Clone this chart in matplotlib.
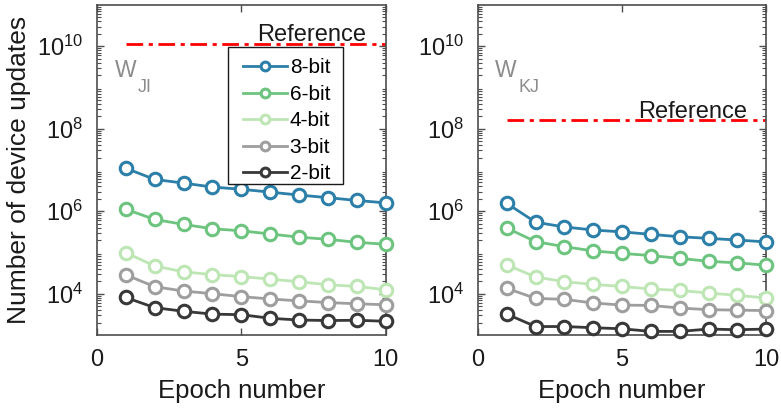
import matplotlib
matplotlib.use("Agg")
import matplotlib.pyplot as plt
import numpy as np
from matplotlib.ticker import LogLocator, NullFormatter
from matplotlib.patches import Rectangle

plt.rcParams['font.family'] = ['Liberation Sans', 'DejaVu Sans']
plt.rcParams['mathtext.fontset'] = 'custom'
plt.rcParams['mathtext.rm'] = 'Liberation Sans'
plt.rcParams['mathtext.it'] = 'Liberation Sans'

epochs = np.arange(1, 11)
labels = ["8-bit", "6-bit", "4-bit", "3-bit", "2-bit"]
colors = ["#2c7fa8", "#6cc47f", "#bde6b4", "#9e9e9e", "#383838"]

ji_8 = [1.1e7, 5.9e6, 4.8e6, 3.85e6, 3.4e6, 2.9e6, 2.46e6, 2.13e6, 1.82e6, 1.59e6]
ji_6 = [1.12e6, 6.3e5, 4.8e5, 3.75e5, 3.35e5, 2.8e5, 2.35e5, 2.08e5, 1.76e5, 1.58e5]
ji_4 = [9.9e4, 4.7e4, 3.4e4, 2.9e4, 2.6e4, 2.26e4, 1.95e4, 1.65e4, 1.5e4, 1.25e4]
ji_3 = [2.87e4, 1.48e4, 1.16e4, 1.0e4, 8.5e3, 7.45e3, 6.7e3, 6.1e3, 5.7e3, 5.4e3]
ji_2 = [8.1e3, 4.6e3, 3.75e3, 3.2e3, 3.1e3, 2.54e3, 2.3e3, 2.24e3, 2.27e3, 2.15e3]
ji_ref = 1.16e10

kj_8 = [1.55e6, 5.4e5, 4.15e5, 3.5e5, 3.15e5, 2.75e5, 2.4e5, 2.2e5, 2.0e5, 1.8e5]
kj_6 = [3.9e5, 1.83e5, 1.38e5, 1.09e5, 9.5e4, 8.4e4, 7.2e4, 6.1e4, 5.6e4, 4.9e4]
kj_4 = [5.0e4, 2.54e4, 1.96e4, 1.68e4, 1.5e4, 1.3e4, 1.2e4, 1.04e4, 9.1e3, 7.9e3]
kj_3 = [1.35e4, 7.7e3, 7.3e3, 5.95e3, 5.3e3, 5.2e3, 4.5e3, 4.1e3, 4.0e3, 3.9e3]
kj_2 = [3.2e3, 1.6e3, 1.6e3, 1.5e3, 1.41e3, 1.22e3, 1.22e3, 1.39e3, 1.34e3, 1.39e3]
kj_ref = 1.6e8

fig = plt.figure(figsize=(7.81, 4.11), dpi=100)
axL = fig.add_axes([0.124, 0.185, 0.370, 0.803])
axR = fig.add_axes([0.612, 0.185, 0.369, 0.803])

edge = "#4d4d4d"

def style(ax, series, ref, ref_text_xy, wsub, wx, subx):
    for s, c, lab in zip(series, colors, labels):
        ax.plot(epochs, s, '-o', color=c, lw=2, ms=9, mfc='white', mec=c, mew=2.2,
                label=lab, clip_on=False, zorder=3)
    ax.plot([1, 10], [ref, ref], color='red', lw=2, ls=(0, (6, 2, 1.5, 2)))
    ax.text(ref_text_xy[0], ref_text_xy[1], "Reference", fontsize=17, color='#1a1a1a',
            ha='left', va='baseline', transform=ax.transData)
    ax.text(wx, 0.782, "W", transform=ax.transAxes, fontsize=16.5, color='#8c8c8c',
            ha='left', va='baseline')
    ax.text(subx, 0.737, wsub, transform=ax.transAxes, fontsize=13, color='#8c8c8c',
            ha='left', va='baseline')
    ax.set_yscale('log')
    ax.set_ylim(1e3, 1e11)
    ax.set_xlim(0, 10)
    ax.set_xticks([0, 5, 10])
    ax.set_yticks([1e4, 1e6, 1e8, 1e10])
    ax.yaxis.set_minor_locator(LogLocator(base=10, subs=np.arange(2, 10), numticks=50))
    ax.yaxis.set_minor_formatter(NullFormatter())
    ax.tick_params(axis='both', which='both', direction='in', top=True, right=True,
                   colors=edge, labelcolor='#1a1a1a', labelsize=17)
    ax.tick_params(axis='both', which='major', length=5, width=1)
    ax.tick_params(axis='y', which='minor', length=3, width=0.8)
    ax.tick_params(axis='x', pad=10)
    ax.tick_params(axis='y', pad=10)
    for sp in ax.spines.values():
        sp.set_color(edge)
        sp.set_linewidth(1.2)
    ax.set_xlabel("Epoch number", fontsize=18.5, color='#1a1a1a', labelpad=6)

style(axL, [ji_8, ji_6, ji_4, ji_3, ji_2], ji_ref, (5.55, 1.3e10), "JI", 0.062, 0.142)
style(axR, [kj_8, kj_6, kj_4, kj_3, kj_2], kj_ref, (5.55, 1.85e8), "KJ", 0.059, 0.139)

axL.set_ylabel("Number of device updates", fontsize=19, color='#1a1a1a', labelpad=4)

leg = axL.legend(loc='upper left', bbox_to_anchor=(0.505, 0.838), fontsize=15,
                 frameon=False, handlelength=2.1, handletextpad=0.15, borderpad=0,
                 labelspacing=0.36, borderaxespad=0, markerscale=0.7)
leg.set_zorder(6)
axL.add_patch(Rectangle((0.453, 0.458), 0.398, 0.415, transform=axL.transAxes,
                        facecolor='white', edgecolor='#1a1a1a', lw=1.0, zorder=5))

fig.savefig("out.png", dpi=100)
